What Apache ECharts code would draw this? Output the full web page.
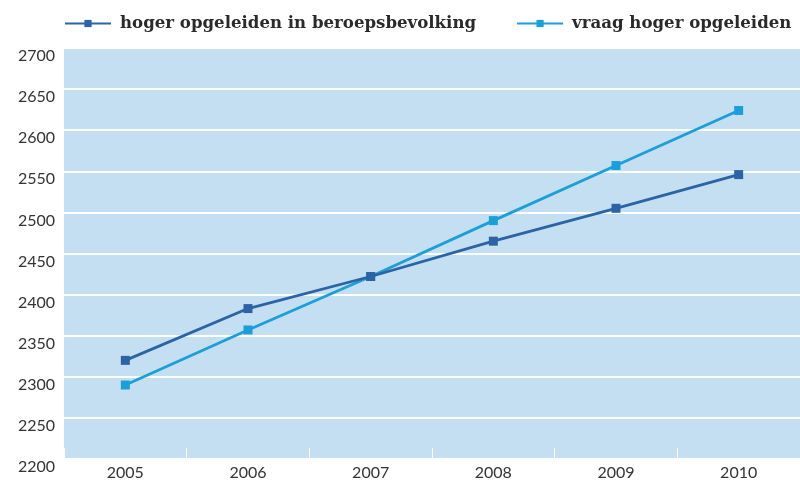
<!DOCTYPE html>
<html>
<head>
<meta charset="utf-8">
<script src="https://cdn.jsdelivr.net/npm/echarts@6/dist/echarts.min.js"></script>
<style>
  html, body { margin: 0; padding: 0; background: #fff; }
  #chart { width: 800px; height: 481px; }
</style>
</head>
<body>
<div id="chart"></div>
<script>
// data
const years = ['2005', '2006', '2007', '2008', '2009', '2010'];
const beroepsbevolking = [2320, 2383, 2422, 2465, 2505, 2546];
const vraag = [2290, 2357, 2422, 2490, 2557, 2624];

const chart = echarts.init(document.getElementById('chart'));

const option = {
  animation: false,
  color: ['#2b64a6', '#1a9fd9'],
  legend: {
    left: 64,
    top: 15,
    width: 736,
    padding: 0,
    itemWidth: 46,
    itemHeight: 9,
    itemGap: 40,
    textStyle: {
      fontFamily: 'DejaVu Serif',
      fontWeight: 'bold',
      fontSize: 16.6,
      color: '#2a2a2a',
      padding: [0, 0, 0, 4]
    },
    data: ['hoger opgeleiden in beroepsbevolking', 'vraag hoger opgeleiden']
  },
  grid: {
    left: 64,
    right: 0,
    top: 48,
    bottom: 21,
    show: true,
    backgroundColor: '#c5dff2',
    borderWidth: 0
  },
  xAxis: {
    type: 'category',
    data: years,
    boundaryGap: true,
    axisLine: { show: false },
    axisTick: {
      show: true,
      inside: true,
      length: 11,
      lineStyle: { color: '#ffffff', width: 1 }
    },
    axisLabel: {
      margin: 6,
      fontFamily: 'Lato',
      fontSize: 16,
      color: '#333'
    }
  },
  yAxis: {
    type: 'value',
    min: 2200,
    max: 2700,
    interval: 50,
    axisLine: { show: false },
    axisTick: { show: false },
    splitLine: { lineStyle: { color: '#ffffff', width: 2 } },
    axisLabel: {
      margin: 9,
      verticalAlign: 'top',
      formatter: (v) => String(v),
      fontFamily: 'Lato',
      fontSize: 16,
      color: '#333'
    }
  },
  series: [
    {
      name: 'hoger opgeleiden in beroepsbevolking',
      type: 'line',
      data: beroepsbevolking,
      symbol: 'rect',
      symbolSize: 9,
      lineStyle: { width: 2.8 },
      z: 3
    },
    {
      name: 'vraag hoger opgeleiden',
      type: 'line',
      data: vraag,
      symbol: 'rect',
      symbolSize: 9,
      lineStyle: { width: 2.8 },
      z: 2
    }
  ]
};

chart.setOption(option);
</script>
</body>
</html>
